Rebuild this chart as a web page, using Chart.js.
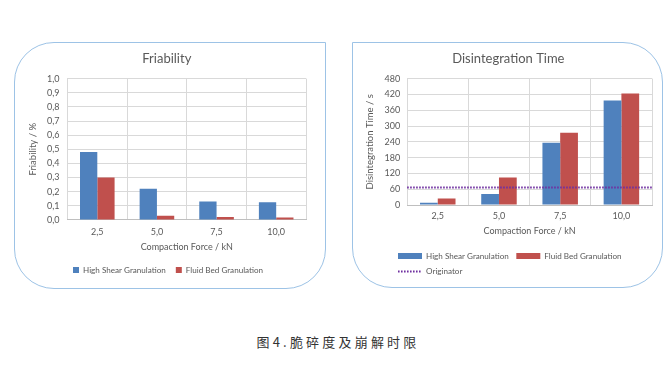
<!DOCTYPE html>
<html><head><meta charset="utf-8">
<script src="https://cdn.jsdelivr.net/npm/chart.js@4.4.1/dist/chart.umd.min.js"></script>
<style>
html,body{margin:0;padding:0;background:#fff;width:672px;height:367px;overflow:hidden;position:relative}
.panel{position:absolute;border:1px solid #9DC3E6;box-sizing:border-box;background:#fff}
#p1{left:14px;top:42px;width:312px;height:247px;border-radius:40px 0 40px 40px}
#p2{left:352px;top:42px;width:311px;height:246px;border-radius:0 40px 40px 40px}
canvas{position:absolute}
#c1{left:14px;top:42px}
#c2{left:352px;top:42px}
#cap{position:absolute;left:2px;width:672px;top:333px;text-align:center;font-family:"Noto Sans CJK SC";font-size:13px;letter-spacing:3.2px;color:#333;line-height:18px}
</style></head>
<body>
<div class="panel" id="p1"></div>
<div class="panel" id="p2"></div>
<canvas id="c1" width="303" height="246"></canvas>
<canvas id="c2" width="310" height="245"></canvas>
<div id="cap">图4.脆碎度及崩解时限</div>
<script>
const categories = ['2,5', '5,0', '7,5', '10,0'];
const seriesNames = ['High Shear Granulation', 'Fluid Bed Granulation', 'Originator'];
const friabilityHS = [0.48, 0.22, 0.13, 0.125];
const friabilityFB = [0.30, 0.03, 0.02, 0.017];
const disintegrationHS = [9, 42, 236, 397];
const disintegrationFB = [25, 104, 274, 423];
const originator = [66];

const FONT = 'Lato';
const TXT = '#595959';
const GRID = '#D9D9D9';
const BLUE = '#4F81BD';
const RED = '#C0504D';
const PURPLE = '#7030A0';

const legendShift = {
  id: 'legendShift',
  afterLayout(chart, args, opts) {
    const l = chart.legend;
    if (l && opts.dx) { l.left += opts.dx; l.right += opts.dx; }
  }
};

function f(size) { return { family: FONT, size: size, weight: 'normal' }; }

function xScale(tickPad, padTop, padBottom) {
  return {
    grid: { color: GRID, drawTicks: false },
    border: { color: '#BFBFBF' },
    ticks: { color: TXT, font: f(9), padding: tickPad },
    title: { display: true, text: 'Compaction Force / kN', color: TXT, font: f(9),
      padding: { top: padTop, bottom: padBottom } }
  };
}

new Chart(document.getElementById('c1'), {
  type: 'bar',
  data: {
    labels: categories,
    datasets: [
      { label: seriesNames[0], data: friabilityHS, backgroundColor: BLUE, barPercentage: 1, categoryPercentage: 0.58 },
      { label: seriesNames[1], data: friabilityFB, backgroundColor: RED, barPercentage: 1, categoryPercentage: 0.58 }
    ]
  },
  plugins: [legendShift],
  options: {
    responsive: false, animation: false, devicePixelRatio: 1,
    layout: { padding: { left: 13.6, right: 11, bottom: 4 } },
    plugins: {
      legendShift: { dx: 35.4 },
      title: { display: true, text: 'Friability', color: TXT, font: f(13), padding: { top: 9, bottom: 12 } },
      legend: { position: 'bottom', align: 'start',
        labels: { boxWidth: 6, boxHeight: 6, padding: 10, color: TXT, font: f(8.1) } },
      tooltip: { enabled: false }
    },
    scales: {
      x: xScale(7, -3.2, 3.55),
      y: {
        min: 0, max: 1,
        grid: { color: GRID, drawTicks: false },
        border: { display: false },
        ticks: { stepSize: 0.1, autoSkip: false, color: TXT, font: f(9), padding: 8,
          callback: v => v.toFixed(1).replace('.', ',') },
        title: { display: true, text: 'Friability / %', color: TXT, font: f(9.5), padding: { top: 0, bottom: 0 } }
      }
    }
  }
});

const lineDash = [1.6, 1.4];

new Chart(document.getElementById('c2'), {
  type: 'bar',
  data: {
    labels: categories,
    datasets: [
      { label: seriesNames[0], data: disintegrationHS, backgroundColor: BLUE, barPercentage: 1, categoryPercentage: 0.58, order: 2 },
      { label: seriesNames[1], data: disintegrationFB, backgroundColor: RED, barPercentage: 1, categoryPercentage: 0.58, order: 2 },
      { type: 'line', label: seriesNames[2], parsing: false,
        data: [{ x: -0.5, y: originator[0] }, { x: categories.length - 0.5, y: originator[0] }],
        borderColor: PURPLE, borderWidth: 2, borderDash: lineDash, pointRadius: 0, fill: false, order: 0 }
    ]
  },
  plugins: [legendShift],
  options: {
    responsive: false, animation: false, devicePixelRatio: 1,
    layout: { padding: { left: 12.6, right: 10, bottom: 1.35 } },
    plugins: {
      legendShift: { dx: 25.9 },
      title: { display: true, text: 'Disintegration Time', color: TXT, font: f(13), padding: { top: 9, bottom: 12 } },
      legend: { position: 'bottom', align: 'start',
        labels: { usePointStyle: true, pointStyleWidth: 24, boxHeight: 6, padding: 7.5, color: TXT, font: f(8.1),
          generateLabels: chart => chart.data.datasets.map((d, i) => ({
            text: d.label, datasetIndex: i,
            fillStyle: d.type === 'line' ? 'rgba(0,0,0,0)' : d.backgroundColor,
            strokeStyle: d.type === 'line' ? d.borderColor : d.backgroundColor,
            lineWidth: d.type === 'line' ? 2 : 0,
            lineDash: d.type === 'line' ? lineDash : [],
            pointStyle: d.type === 'line' ? 'line' : 'rect',
            fontColor: TXT, hidden: false
          }))
        } },
      tooltip: { enabled: false }
    },
    scales: {
      x: xScale(6, -2.2, 8.05),
      y: {
        min: 0, max: 480,
        grid: { color: GRID, drawTicks: false },
        border: { display: false },
        ticks: { stepSize: 60, autoSkip: false, color: TXT, font: f(9), padding: 7 },
        title: { display: true, text: 'Disintegration Time / s', color: TXT, font: f(9.5), padding: { top: 0, bottom: 1.5 } }
      }
    }
  }
});
</script>
</body></html>
